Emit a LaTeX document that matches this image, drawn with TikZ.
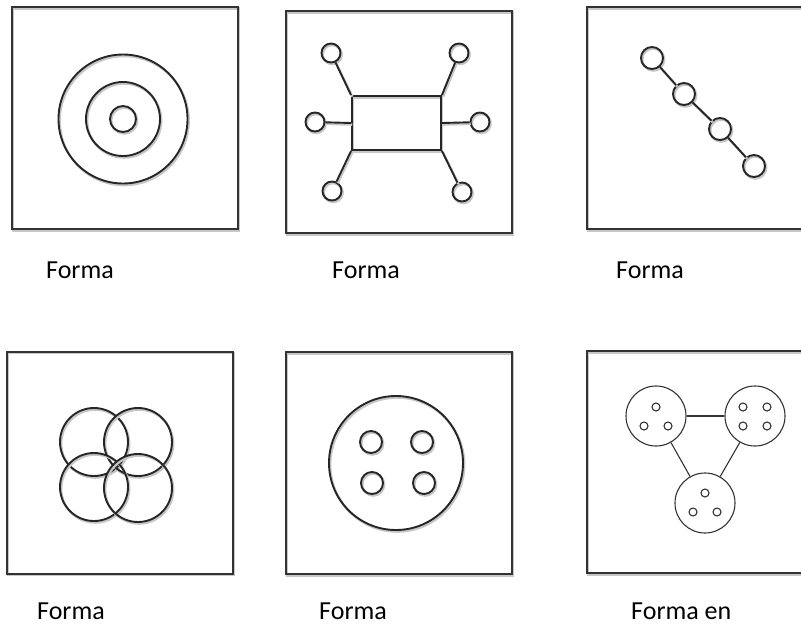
\documentclass[tikz,border=0pt]{standalone}
\usepackage{fontspec}
\setmainfont{Carlito}
\begin{document}
\begin{tikzpicture}[
  x=1pt, y=-1pt,
  soft/.style={preaction={draw=black!22, line width=2.4pt, transform canvas={shift={(1.2pt,-1.6pt)}}}},
  panel/.style={
    draw=black!80,
    line width=2pt,
    minimum width=226pt,
    minimum height=222pt,
    inner sep=0pt,
    soft
  },
  ring/.style={draw=black!85, circle, line width=1.9pt, inner sep=0pt, minimum size=#1, soft},
  thinring/.style={draw=black!80, circle, line width=1.1pt, inner sep=0pt, minimum size=#1},
  link/.style={draw=black!85, line width=1.9pt, soft},
  thinlink/.style={draw=black!80, line width=1.1pt},
  formtext/.style={font=\fontsize{26}{31}\selectfont, anchor=base west, inner sep=0pt}
]
\useasboundingbox (0,0) rectangle (801,625);

% concentric
\node[panel] at (125,118) (box1) {};
\node[ring=129pt] at (123,119) (outer) {};
\node[ring=74pt] at (123,119) (middle) {};
\node[ring=26pt] at (123,119) (inner) {};
\node[formtext] at (46,278) (text1) {Forma};

% star around a rectangle
\node[panel] at (399,122) (box2) {};
\node[draw=black!85, line width=1.9pt, minimum width=89pt, minimum height=54pt, inner sep=0pt, soft] at (396.5,123) (hub) {};
\node[ring=19pt] at (331,53) (tl) {};
\node[ring=19pt] at (459,53) (tr) {};
\node[ring=19pt] at (315,122) (ml) {};
\node[ring=19pt] at (480,122) (mr) {};
\node[ring=19pt] at (332,191) (bl) {};
\node[ring=19pt] at (462,192) (br) {};
\draw[link] (tl) -- (hub.north west);
\draw[link] (tr) -- (hub.north east);
\draw[link] (ml) -- (hub.west);
\draw[link] (mr) -- (hub.east);
\draw[link] (bl) -- (hub.south west);
\draw[link] (br) -- (hub.south east);
\node[formtext] at (332,278) (text2) {Forma};

% chain
\node[panel] at (700,118) (box3) {};
\node[ring=22pt] at (652,58) (c1) {};
\node[ring=22pt] at (684,94) (c2) {};
\node[ring=22pt] at (720,129) (c3) {};
\node[ring=22pt] at (754,166) (c4) {};
\draw[link] (c1) -- (c2);
\draw[link] (c2) -- (c3);
\draw[link] (c3) -- (c4);
\node[formtext] at (616,278) (text3) {Forma};

% overlapping
\node[panel] at (120,462.5) (box4) {};
\node[ring=68pt] at (94,442) (o1) {};
\node[ring=68pt] at (138,442) (o2) {};
\node[ring=68pt] at (94,487) (o3) {};
\node[ring=68pt] at (138,488) (o4) {};
\node[formtext] at (37,619) (text4) {Forma};

% button
\node[panel] at (399,463) (box5) {};
\node[ring=134pt] at (396,463) (disc) {};
\node[ring=22pt] at (371,442) (h1) {};
\node[ring=22pt] at (422,442) (h2) {};
\node[ring=22pt] at (372,483) (h3) {};
\node[ring=22pt] at (424,483) (h4) {};
\node[formtext] at (319,619) (text5) {Forma};

% network of groups
\node[panel, line width=1.4pt, preaction={draw=none}] at (700,462) (box6) {};
\node[thinring=60pt] at (656,416) (ga) {};
\node[thinring=60pt] at (755,416) (gb) {};
\node[thinring=60pt] at (705,503) (gc) {};
\node[thinring=8pt] at (656,407) (a1) {};
\node[thinring=8pt] at (644,426) (a2) {};
\node[thinring=8pt] at (668,426) (a3) {};
\node[thinring=8pt] at (743,407) (b1) {};
\node[thinring=8pt] at (767,407) (b2) {};
\node[thinring=8pt] at (743,426) (b3) {};
\node[thinring=8pt] at (767,426) (b4) {};
\node[thinring=8pt] at (705,493) (d1) {};
\node[thinring=8pt] at (693,512) (d2) {};
\node[thinring=8pt] at (717,512) (d3) {};
\draw[thinlink] (ga) -- (gb);
\draw[thinlink] (ga) -- (gc);
\draw[thinlink] (gb) -- (gc);
\node[formtext] at (631,619) (text6) {Forma en};
\end{tikzpicture}
\end{document}
